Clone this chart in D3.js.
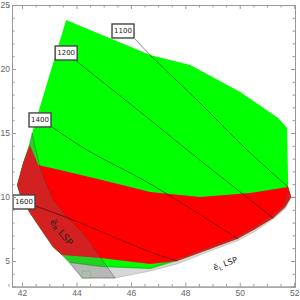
<!DOCTYPE html>
<html>
<head>
<meta charset="utf-8">
<script src="https://cdn.jsdelivr.net/npm/d3@7"></script>
<style>
  body { margin: 0; background: #fff; }
  svg { display: block; font-family: "DejaVu Sans", sans-serif; }
</style>
</head>
<body>
<div id="chart"></div>
<script>
// outline of the allowed region (drawn green), data coordinates
var greenRegion = [[43.62,23.83],[46.71,21.09],[48.18,20.31],[50.02,18.20],[51.41,16.17],[51.74,15.39],
  [51.78,10.78],[51.89,10.0],[51.67,9.22],[51.23,8.36],[50.57,7.50],[49.90,6.72],[48.91,5.94],
  [47.70,5.0],[46.71,4.38],[44.87,4.53],[43.77,4.84],[43.47,5.47],[43.14,6.09],[42.66,7.58],
  [42.29,8.75],[41.93,10.16],[41.82,10.94],[42.04,12.66],[42.29,14.22],[42.40,15.23]];

var redRegion = [[42.29,14.06],[42.59,12.5],[43.40,12.11],[45.24,11.17],[46.71,10.39],[48.54,10.0],
  [50.38,10.31],[51.78,10.78],[51.89,10.0],[51.67,9.22],[51.23,8.36],[50.57,7.50],[49.90,6.72],
  [48.91,5.94],[47.70,5.0],[46.71,4.77],[44.87,5.23],[43.47,5.47],[43.14,6.09],[42.66,7.58],
  [42.29,8.75],[41.93,10.16],[41.82,10.94],[42.04,12.66],[42.29,14.06]];

// stau_R LSP overlay
var eRRegion = [[42.37,15.0],[42.29,14.22],[42.04,12.66],[41.82,10.94],[41.93,10.16],[42.29,8.75],
  [42.66,7.58],[43.14,6.09],[43.47,5.47],[43.84,4.61],[44.21,3.67],[45.42,3.67],[44.87,5.31],
  [44.24,7.19],[43.65,8.44],[43.14,9.77],[42.66,12.27],[42.51,13.67]];

// stau_L LSP overlay
var eLRegion = [[43.77,4.84],[44.21,3.67],[45.42,3.67],[46.71,4.22],[47.70,4.77],[48.91,5.78],
  [49.90,6.56],[50.57,7.34],[51.23,8.28],[51.67,9.06],[51.89,10.0],[51.78,10.31],[51.60,9.30],
  [51.15,8.52],[50.53,7.66],[49.87,6.88],[48.88,6.09],[47.70,5.16],[46.71,4.45],[44.87,4.61],
  [43.77,4.92]];

var smallPatch = [[44.21,4.22],[44.50,4.22],[44.54,3.67],[44.21,3.67]];

var contourLabels = ['1100', '1200', '1400', '1600'];
var contourBoxes = [[45.71,22.97],[43.62,21.25],[42.66,16.02],[42.07,9.61]];
var contourLines = [
  [[46.15,22.34],[46.71,21.09],[48.54,17.34],[50.27,13.67],[51.78,10.78]],
  [[43.99,20.63],[46.71,16.02],[48.07,13.67],[51.23,8.36]],
  [[43.10,15.47],[44.39,13.67],[46.71,11.02],[49.94,6.72]],
  [[42.48,9.30],[43.88,8.20],[46.71,5.70],[47.70,5.0]]
];

var xTicks = [42, 44, 46, 48, 50, 52];
var yTicks = [5, 10, 15, 20, 25];

var width = 300, height = 300;

var svg = d3.select('#chart').append('svg')
    .attr('width', width)
    .attr('height', height);

var x = d3.scaleLinear().domain([41.63, 52.03]).range([12, 295]);
var y = d3.scaleLinear().domain([3, 25]).range([286.6, 5]);

var area = d3.line()
    .x(function(d) { return x(d[0]); })
    .y(function(d) { return y(d[1]); });

svg.append('path')
    .attr('d', area(greenRegion) + 'Z')
    .attr('fill', '#00ff00');

svg.append('path')
    .attr('d', area(redRegion) + 'Z')
    .attr('fill', '#ff0000');

svg.append('path')
    .attr('d', area(eLRegion) + 'Z')
    .attr('fill', 'rgba(110,110,110,0.28)')
    .attr('stroke', 'rgba(70,70,70,0.35)')
    .attr('stroke-width', 0.6);

svg.append('path')
    .attr('d', area(eRRegion) + 'Z')
    .attr('fill', 'rgba(110,110,110,0.3)')
    .attr('stroke', 'rgba(60,60,60,0.5)')
    .attr('stroke-width', 0.7);

svg.append('path')
    .attr('d', area(smallPatch) + 'Z')
    .attr('fill', 'none')
    .attr('stroke', '#66cc66')
    .attr('stroke-width', 0.7);

// contour lines
var curve = d3.line()
    .x(function(d) { return x(d[0]); })
    .y(function(d) { return y(d[1]); })
    .curve(d3.curveCatmullRom);

svg.selectAll('.contour').data(contourLines).enter()
  .append('path')
    .attr('class', 'contour')
    .attr('d', curve)
    .attr('fill', 'none')
    .attr('stroke', '#000')
    .attr('stroke-opacity', 0.6)
    .attr('stroke-width', 0.8);

// contour labels
var box = svg.selectAll('.clabel').data(contourLabels).enter()
  .append('g')
    .attr('class', 'clabel')
    .attr('transform', function(d, i) {
      return 'translate(' + x(contourBoxes[i][0]) + ',' + y(contourBoxes[i][1]) + ')';
    });

box.append('rect')
    .attr('x', -11).attr('y', -7)
    .attr('width', 22).attr('height', 14)
    .attr('fill', '#fff')
    .attr('stroke', '#444')
    .attr('stroke-width', 1.4);

box.append('text')
    .attr('text-anchor', 'middle')
    .attr('dy', '0.35em')
    .attr('font-size', 7)
    .attr('fill', '#222')
    .text(function(d) { return d; });

// region labels
var eR = svg.append('text')
    .attr('transform', 'translate(' + x(43.45) + ',' + y(7.25) + ') rotate(52)')
    .attr('text-anchor', 'middle')
    .attr('dy', '0.35em')
    .attr('font-size', 9.5)
    .attr('fill', '#222');
eR.append('tspan').text('\u1ebd');
eR.append('tspan').attr('font-size', 6.5).attr('dy', 2).text('R');
eR.append('tspan').attr('dy', -2).text(' LSP');

var eL = svg.append('text')
    .attr('transform', 'translate(' + x(49.47) + ',' + y(4.8) + ') rotate(-20)')
    .attr('text-anchor', 'middle')
    .attr('dy', '0.35em')
    .attr('font-size', 8)
    .attr('fill', '#222');
eL.append('tspan').text('\u1ebd');
eL.append('tspan').attr('font-size', 5.5).attr('dy', 2).text('L');
eL.append('tspan').attr('dy', -2).text(' LSP');

// frame and ticks
var frameColor = '#999', labelColor = '#666';

function styleAxis(g) {
  g.select('.domain').attr('stroke', frameColor);
  g.selectAll('.tick line').attr('stroke', frameColor);
  g.selectAll('.tick text').attr('fill', labelColor).attr('font-size', 8.5);
}

var xMinor = d3.range(41.5, 52.01, 0.5).filter(function(v) { return xTicks.indexOf(v) < 0; });
var yMinor = d3.range(4, 25, 1).filter(function(v) { return yTicks.indexOf(v) < 0; });

svg.append('g').attr('transform', 'translate(0,' + y(3) + ')')
    .call(d3.axisBottom(x).tickValues(xTicks).tickSize(-4).tickPadding(3).tickFormat(d3.format('d')))
    .call(styleAxis);
svg.append('g').attr('transform', 'translate(0,' + y(3) + ')')
    .call(d3.axisBottom(x).tickValues(xMinor).tickSize(-2.5).tickFormat(''))
    .call(styleAxis);
svg.append('g').attr('transform', 'translate(0,' + y(25) + ')')
    .call(d3.axisTop(x).tickValues(xTicks).tickSize(-4).tickFormat(''))
    .call(styleAxis);
svg.append('g').attr('transform', 'translate(0,' + y(25) + ')')
    .call(d3.axisTop(x).tickValues(xMinor).tickSize(-2.5).tickFormat(''))
    .call(styleAxis);

svg.append('g').attr('transform', 'translate(' + x(41.63) + ',0)')
    .call(d3.axisLeft(y).tickValues(yTicks).tickSize(-4).tickPadding(2).tickFormat(d3.format('d')))
    .call(styleAxis);
svg.append('g').attr('transform', 'translate(' + x(41.63) + ',0)')
    .call(d3.axisLeft(y).tickValues(yMinor).tickSize(-2.5).tickFormat(''))
    .call(styleAxis);
svg.append('g').attr('transform', 'translate(' + x(52.03) + ',0)')
    .call(d3.axisRight(y).tickValues(yTicks).tickSize(-4).tickFormat(''))
    .call(styleAxis);
svg.append('g').attr('transform', 'translate(' + x(52.03) + ',0)')
    .call(d3.axisRight(y).tickValues(yMinor).tickSize(-2.5).tickFormat(''))
    .call(styleAxis);
</script>
</body>
</html>
